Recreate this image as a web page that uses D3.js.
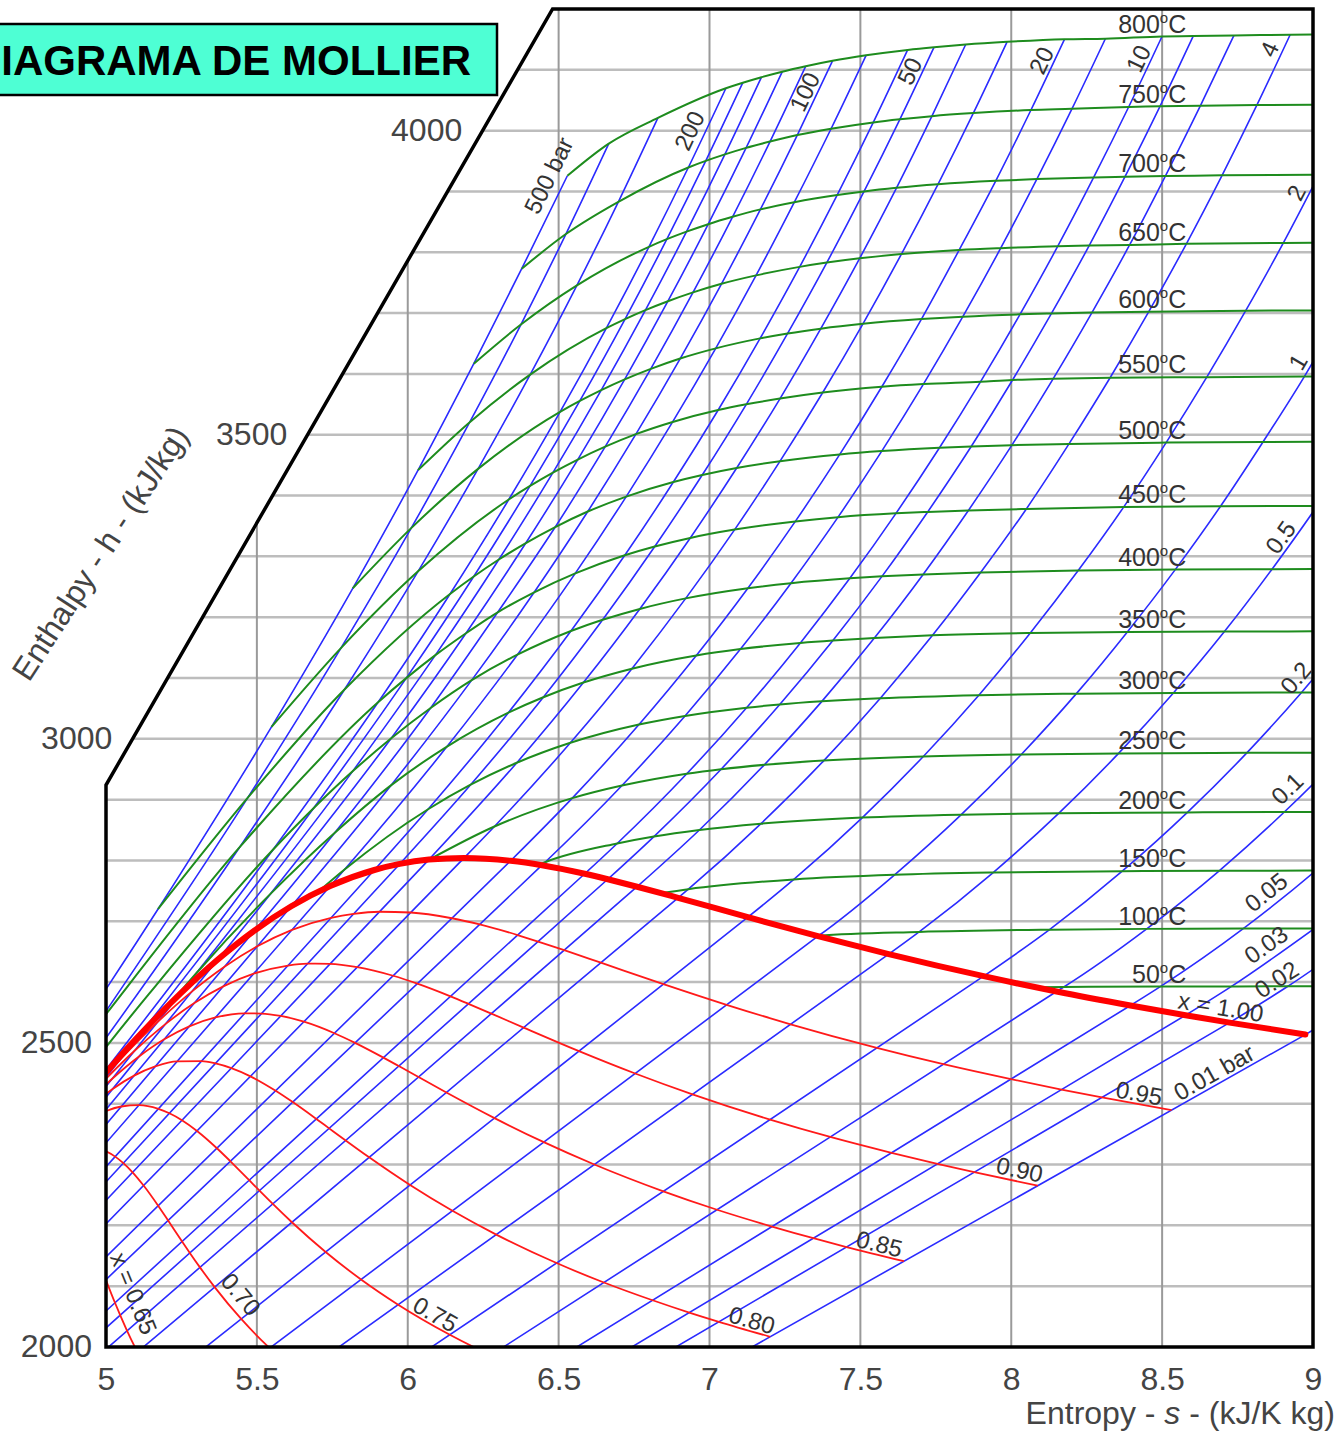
<!DOCTYPE html>
<html>
	<head>
		<meta charset="UTF-8">
		<title>Diagrama de Mollier</title>
		<script type="text/javascript" src="https://cdn.jsdelivr.net/npm/d3@7/dist/d3.min.js"></script>
		<style>
			body { margin: 0; background-color: white; }
			svg text { font-family: "Liberation Sans", Arial, sans-serif; }
		</style>
	</head>
	<body>
		<svg id="chart" width="1342" height="1437"></svg>

		<script type="text/javascript">

			// ---- saturation table, one column per pressure (bar) ----
			var satPressures = [200, 180, 160, 140, 120, 100, 80, 60, 50, 40, 30, 20, 15, 10, 8, 6, 4, 2, 1, 0.5, 0.2, 0.1, 0.05, 0.03, 0.02, 0.01];
			var satLiquidEntropy = [4.0139, 3.8715, 3.7461, 3.6232, 3.4962, 3.3596, 3.2068, 3.0267, 2.9202, 2.7964, 2.6457, 2.4474, 2.3150, 2.1387, 2.0462, 1.9312, 1.7766, 1.5301, 1.3026, 1.0910, 0.8320, 0.6492, 0.4763, 0.3543, 0.2606, 0.1059];
			var satLiquidEnthalpy = [1826.3, 1732.0, 1650.1, 1571.1, 1491.3, 1407.6, 1316.6, 1213.4, 1154.2, 1087.3, 1008.4, 908.8, 844.9, 762.8, 721.1, 670.6, 604.7, 504.7, 417.5, 340.5, 251.4, 191.8, 137.8, 101.0, 73.5, 29.3];
			var satVapourEntropy = [4.9269, 5.1044, 5.2455, 5.3717, 5.4924, 5.6141, 5.7432, 5.8892, 5.9734, 6.0701, 6.1869, 6.3409, 6.4448, 6.5865, 6.6628, 6.7600, 6.8959, 7.1271, 7.3594, 7.5939, 7.9085, 8.1501, 8.3950, 8.5776, 8.7236, 8.9749];
			var satVapourEnthalpy = [2409.7, 2509.1, 2580.6, 2637.6, 2684.9, 2724.7, 2758.0, 2784.3, 2794.3, 2801.4, 2804.2, 2799.5, 2792.2, 2778.1, 2769.1, 2756.8, 2738.6, 2706.7, 2675.5, 2645.9, 2609.7, 2584.6, 2561.6, 2545.5, 2533.4, 2513.7];

			// ---- saturated vapour at the isotherm temperatures (degC) ----
			var satTemps = [50, 100, 150, 200, 250, 300, 350];
			var satTempEntropy = [8.0748, 7.3542, 6.8371, 6.4302, 6.0696, 5.7059, 5.2112];
			var satTempEnthalpy = [2591.3, 2675.6, 2745.9, 2792.0, 2801.0, 2749.6, 2563.9];

			// ---- superheated steam, one list per isotherm: [p (bar), s, h] ----
			var steam50 = [[0.1, 8.1741, 2592.0], [0.05, 8.4940, 2592.6], [0.03, 8.7299, 2592.9], [0.02, 8.9169, 2593.1], [0.01, 9.2368, 2593.3]];
			var steam100 = [[1, 7.3614, 2676.2], [0.5, 7.6947, 2682.5], [0.2, 8.1269, 2686.2], [0.1, 8.4489, 2687.5], [0.05, 8.7688, 2688.0], [0.03, 9.0046, 2688.2], [0.02, 9.1917, 2688.3]];
			var steam150 = [[4, 6.9299, 2752.8], [2, 7.2795, 2768.8], [1, 7.6134, 2776.4], [0.5, 7.9401, 2780.1], [0.2, 8.3678, 2782.3], [0.1, 8.6892, 2783.0], [0.05, 9.0091, 2783.3]];
			var steam200 = [[15, 6.4552, 2797.1], [10, 6.6940, 2827.9], [8, 6.8158, 2839.3], [6, 6.9665, 2850.1], [4, 7.1706, 2860.5], [2, 7.5066, 2870.5], [1, 7.8343, 2875.3], [0.5, 8.1580, 2877.7], [0.2, 8.5838, 2879.0], [0.1, 8.9049, 2879.6], [0.05, 9.2248, 2879.9]];
			var steam250 = [[30, 6.2872, 2855.8], [20, 6.5453, 2902.5], [15, 6.7100, 2923.2], [10, 6.9247, 2942.6], [8, 7.0384, 2950.0], [6, 7.1816, 2957.2], [4, 7.3789, 2964.2], [2, 7.7086, 2971.0], [1, 8.0333, 2974.3], [0.5, 8.3556, 2976.0], [0.2, 8.7807, 2976.9], [0.1, 9.1015, 2977.3]];
			var steam300 = [[80, 5.7906, 2785.0], [60, 6.0674, 2884.2], [50, 6.2084, 2924.5], [40, 6.3615, 2960.7], [30, 6.5390, 2993.5], [20, 6.7664, 3023.5], [15, 6.9189, 3037.6], [10, 7.1229, 3051.2], [8, 7.2328, 3056.5], [6, 7.3724, 3061.6], [4, 7.5662, 3066.8], [2, 7.8926, 3071.8], [1, 8.2158, 3074.3], [0.5, 8.5373, 3075.5], [0.2, 8.9620, 3076.3], [0.1, 9.2827, 3076.7]];
			var steam350 = [[160, 5.3000, 2615.0], [140, 5.5450, 2745.0], [120, 5.7583, 2845.6], [100, 5.9443, 2923.4], [80, 6.1301, 2987.3], [60, 6.3335, 3043.0], [50, 6.4493, 3068.4], [40, 6.5821, 3092.5], [30, 6.7428, 3115.3], [20, 6.9563, 3137.0], [15, 7.1027, 3147.5], [10, 7.3011, 3157.7], [8, 7.4089, 3161.7], [6, 7.5464, 3165.7], [4, 7.7391, 3170.1], [2, 8.0631, 3174.0], [1, 8.3847, 3175.8], [0.5, 8.7065, 3176.3], [0.2, 9.1308, 3177.0]];
			var steam400 = [[300, 4.4728, 2151.1], [250, 5.1418, 2580.2], [200, 5.5540, 2818.1], [180, 5.6878, 2885.9], [160, 5.8172, 2946.5], [140, 5.9453, 3001.0], [120, 6.0758, 3050.7], [100, 6.2120, 3096.5], [80, 6.3634, 3138.3], [60, 6.5408, 3177.2], [50, 6.6459, 3195.7], [40, 6.7690, 3213.6], [30, 6.9212, 3230.9], [20, 7.1271, 3247.6], [15, 7.2700, 3255.9], [10, 7.4651, 3263.9], [8, 7.5716, 3267.1], [6, 7.7079, 3270.3], [4, 7.8985, 3273.4], [2, 8.2218, 3276.6], [1, 8.5435, 3278.2], [0.5, 8.8642, 3278.9], [0.2, 9.2893, 3279.5]];
			var steam450 = [[500, 4.5884, 2284.0], [400, 4.9459, 2512.8], [300, 5.4423, 2821.4], [200, 5.9017, 3060.1], [180, 5.9951, 3099.8], [160, 6.0916, 3137.6], [140, 6.1930, 3173.6], [120, 6.2980, 3208.0], [100, 6.4190, 3240.9], [80, 6.5551, 3272.0], [60, 6.7193, 3301.8], [50, 6.8186, 3316.2], [40, 6.9363, 3330.3], [30, 7.0834, 3344.0], [20, 7.2844, 3357.5], [15, 7.4260, 3364.5], [10, 7.6180, 3370.7], [8, 7.7230, 3373.0], [6, 7.8580, 3375.5], [4, 8.0500, 3378.0], [2, 8.3725, 3381.0], [1, 8.6935, 3382.4], [0.5, 9.0140, 3383.0]];
			var steam500 = [[500, 5.1726, 2720.1], [400, 5.4700, 2903.3], [300, 5.7904, 3081.1], [200, 6.1401, 3238.2], [180, 6.2187, 3266.9], [160, 6.3019, 3294.8], [140, 6.3913, 3321.9], [120, 6.4888, 3348.2], [100, 6.5966, 3373.7], [80, 6.7240, 3398.3], [60, 6.8803, 3422.2], [50, 6.9759, 3433.8], [40, 7.0901, 3445.3], [30, 7.2338, 3456.5], [20, 7.4317, 3467.6], [15, 7.5709, 3473.1], [10, 7.7622, 3478.5], [8, 7.8673, 3480.6], [6, 8.0021, 3482.8], [4, 8.1913, 3484.9], [2, 8.5133, 3487.1], [1, 8.8342, 3488.1], [0.5, 9.1546, 3488.7]];
			var steam550 = [[500, 5.5485, 3019.5], [400, 5.7785, 3149.1], [300, 6.0342, 3275.4], [200, 6.3348, 3393.5], [180, 6.4054, 3415.8], [160, 6.4811, 3437.7], [140, 6.5635, 3459.2], [120, 6.6544, 3480.3], [100, 6.7561, 3500.9], [80, 6.8778, 3521.0], [60, 7.0288, 3540.6], [50, 7.1220, 3550.0], [40, 7.2338, 3559.5], [30, 7.3753, 3569.4], [20, 7.5711, 3578.9], [15, 7.7090, 3583.3], [10, 7.8984, 3587.3], [8, 8.0043, 3590.0], [6, 8.1387, 3591.9], [4, 8.3275, 3593.7], [2, 8.6480, 3594.7], [1, 8.9713, 3595.6], [0.5, 9.2905, 3596.1]];
			var steam600 = [[500, 5.8178, 3247.5], [400, 6.0114, 3346.4], [300, 6.2330, 3443.9], [200, 6.5048, 3537.6], [180, 6.5702, 3555.6], [160, 6.6412, 3573.4], [140, 6.7190, 3591.0], [120, 6.8054, 3608.3], [100, 6.9029, 3625.3], [80, 7.0206, 3642.0], [60, 7.1677, 3658.4], [50, 7.2589, 3666.5], [40, 7.3688, 3674.4], [30, 7.5085, 3682.3], [20, 7.7024, 3690.1], [15, 7.8395, 3694.1], [10, 8.0290, 3697.9], [8, 8.1333, 3699.4], [6, 8.2674, 3700.9], [4, 8.4558, 3702.4], [2, 8.7770, 3704.0], [1, 9.0976, 3704.4]];
			var steam650 = [[500, 6.0342, 3441.8], [400, 6.2054, 3520.6], [300, 6.4057, 3598.9], [200, 6.6582, 3675.3], [180, 6.7202, 3690.2], [160, 6.7877, 3704.9], [140, 6.8622, 3719.5], [120, 6.9454, 3734.0], [100, 7.0398, 3748.2], [80, 7.1543, 3762.0], [60, 7.2989, 3776.0], [50, 7.3888, 3783.0], [40, 7.4976, 3790.0], [30, 7.6360, 3797.0], [20, 7.8273, 3803.6], [15, 7.9650, 3806.7], [10, 8.1542, 3810.0], [8, 8.2583, 3811.0], [6, 8.3922, 3812.0], [4, 8.5804, 3814.0], [2, 8.9018, 3815.4], [1, 9.2245, 3816.0]];
			var steam700 = [[500, 6.2189, 3616.8], [400, 6.3750, 3681.2], [300, 6.5606, 3745.6], [200, 6.7993, 3809.0], [180, 6.8587, 3821.5], [160, 6.9238, 3833.9], [140, 6.9958, 3846.2], [120, 7.0766, 3858.3], [100, 7.1687, 3870.5], [80, 7.2812, 3882.4], [60, 7.4234, 3894.2], [50, 7.5122, 3900.1], [40, 7.6198, 3905.9], [30, 7.7571, 3911.7], [20, 7.9487, 3917.4], [15, 8.0848, 3920.3], [10, 8.2731, 3923.1], [8, 8.3770, 3924.2], [6, 8.5107, 3925.3], [4, 8.6987, 3926.5], [2, 9.0198, 3927.6]];
			var steam750 = [[500, 6.3777, 3773.0], [400, 6.5241, 3830.0], [300, 6.6980, 3883.0], [200, 6.9299, 3939.4], [180, 6.9876, 3950.2], [160, 7.0510, 3960.9], [140, 7.1213, 3971.6], [120, 7.2006, 3982.0], [100, 7.2910, 3992.7], [80, 7.4029, 4003.1], [60, 7.5428, 4013.5], [50, 7.6309, 4018.6], [40, 7.7371, 4023.8], [30, 7.8744, 4028.8], [20, 8.0653, 4033.9], [15, 8.2011, 4035.8], [10, 8.3891, 4038.9], [8, 8.4929, 4039.9], [6, 8.6270, 4041.0], [4, 8.8143, 4042.2], [2, 9.1367, 4043.0]];
			var steam800 = [[500, 6.5290, 3925.8], [400, 6.6662, 3978.7], [300, 6.8290, 4021.0], [200, 7.0544, 4069.7], [180, 7.1104, 4078.8], [160, 7.1722, 4087.9], [140, 7.2410, 4096.9], [120, 7.3187, 4105.8], [100, 7.4077, 4114.8], [80, 7.5190, 4123.8], [60, 7.6566, 4132.7], [50, 7.7440, 4137.1], [40, 7.8490, 4141.6], [30, 7.9862, 4146.0], [20, 8.1765, 4150.3], [15, 8.3120, 4151.2], [10, 8.4996, 4154.8], [8, 8.6033, 4155.6], [6, 8.7380, 4156.5], [4, 8.9244, 4157.8], [2, 9.2482, 4158.5]];

			var isothermTemps = [50, 100, 150, 200, 250, 300, 350, 400, 450, 500, 550, 600, 650, 700, 750, 800];
			var isothermRows = [steam50, steam100, steam150, steam200, steam250, steam300, steam350, steam400, steam450, steam500, steam550, steam600, steam650, steam700, steam750, steam800];

			// pressures drawn as isobars (bar) and dryness fractions drawn as quality lines
			var isobarPressures = [500, 400, 300, 200, 180, 160, 140, 120, 100, 80, 60, 50, 40, 30, 20, 15, 10, 8, 6, 4, 2, 1, 0.5, 0.2, 0.1, 0.05, 0.03, 0.02, 0.01];
			var qualities = [0.65, 0.70, 0.75, 0.80, 0.85, 0.90, 0.95];

			var xTicks = [5, 5.5, 6, 6.5, 7, 7.5, 8, 8.5, 9];
			var yTicks = [2000, 2500, 3000, 3500, 4000];

			// chart outline (s, h)
			var frameEntropy = [5, 5, 6.48, 9, 9];
			var frameEnthalpy = [2000, 2924, 4200, 4200, 2000];

			// label layout: distance back from the visible end of the line, offset beside it
			var isobarLabels = [
				{ p: 500, text: "500 bar", back: 8, off: 17 },
				{ p: 200, text: "200", back: 54, off: 15 },
				{ p: 100, text: "100", back: 40, off: 12 },
				{ p: 50, text: "50", back: 32, off: 12 },
				{ p: 20, text: "20", back: 29, off: 12 },
				{ p: 10, text: "10", back: 30, off: 12 },
				{ p: 4, text: "4", back: 22, off: 13 },
				{ p: 2, text: "2", back: 14, off: 12 },
				{ p: 1, text: "1", back: 8, off: 13 },
				{ p: 0.5, text: "0.5", back: 40, off: 12 },
				{ p: 0.2, text: "0.2", back: 11, off: 14 },
				{ p: 0.1, text: "0.1", back: 22, off: 15 },
				{ p: 0.05, text: "0.05", back: 49, off: 15 },
				{ p: 0.03, text: "0.03", back: 47, off: 15 },
				{ p: 0.02, text: "0.02", back: 36, off: 12 },
				{ p: 0.01, text: "0.01 bar", back: 107, off: 12 }
			];
			var qualityLabels = [
				{ q: 1.00, text: "x = 1.00", back: 88, off: 14 },
				{ q: 0.95, text: "0.95", back: 35, off: 11 },
				{ q: 0.90, text: "0.90", back: 21, off: 12 },
				{ q: 0.85, text: "0.85", back: 28, off: 11 },
				{ q: 0.80, text: "0.80", back: 22, off: 11 },
				{ q: 0.75, text: "0.75", back: 50, off: 11 },
				{ q: 0.70, text: "0.70", back: 58, off: 16 },
				{ q: 0.65, text: "x = 0.65", back: 50, off: 21 }
			];

			var svg = d3.select("#chart");

			var x = d3.scaleLinear().domain([5, 9]).range([106, 1313]);
			var y = d3.scaleLinear().domain([2000, 4200]).range([1347, 9]);

			var smooth = d3.line()
							.x(function (d) { return x(d[0]); })
							.y(function (d) { return y(d[1]); })
							.curve(d3.curveMonotoneX);
			var straight = d3.line()
							.x(function (d) { return x(d[0]); })
							.y(function (d) { return y(d[1]); });

			var byEntropy = function (a, b) { return a[0] - b[0]; };

			var framePoints = frameEntropy.map(function (s, i) { return [s, frameEnthalpy[i]]; });

			svg.append("defs").append("clipPath").attr("id", "plotClip")
				.append("polygon")
				.attr("points", framePoints.map(function (d) { return x(d[0]) + "," + y(d[1]); }).join(" "));

			var plot = svg.append("g").attr("clip-path", "url(#plotClip)");

			// grid
			plot.append("g").selectAll("line")
				.data(y.ticks(22).filter(function (h) { return h > 2000 && h < 4200; }))
				.enter().append("line")
				.attr("x1", x(5)).attr("x2", x(9))
				.attr("y1", function (d) { return y(d); })
				.attr("y2", function (d) { return y(d); })
				.attr("stroke", "#bdbdbd")
				.attr("stroke-width", 2.5);

			plot.append("g").selectAll("line")
				.data(x.ticks(8).filter(function (s) { return s > 5 && s < 9; }))
				.enter().append("line")
				.attr("x1", function (d) { return x(d); })
				.attr("x2", function (d) { return x(d); })
				.attr("y1", y(2000)).attr("y2", y(4200))
				.attr("stroke", "#9a9a9a")
				.attr("stroke-width", 2);

			// isotherm point lists
			var isotherms = isothermTemps.map(function (t, i) {
				var pts = isothermRows[i].map(function (r) { return [r[1], r[2]]; });
				var k = satTemps.indexOf(t);
				if (k >= 0) {
					pts.push([satTempEntropy[k], satTempEnthalpy[k]]);
				}
				pts.sort(byEntropy);
				return { t: t, points: pts };
			});

			// isobars: straight wet segment + curved superheated part
			var isobars = isobarPressures.map(function (p) {
				var sup = [];
				var k = satPressures.indexOf(p);
				var wet = null;
				if (k >= 0) {
					sup.push([satVapourEntropy[k], satVapourEnthalpy[k]]);
					wet = [[satLiquidEntropy[k], satLiquidEnthalpy[k]], [satVapourEntropy[k], satVapourEnthalpy[k]]];
				}
				isothermRows.forEach(function (rows) {
					rows.forEach(function (r) {
						if (r[0] === p) {
							sup.push([r[1], r[2]]);
						}
					});
				});
				sup.sort(byEntropy);
				var d = (wet ? straight(wet) : "") + (sup.length > 1 ? smooth(sup) : "");
				return { p: p, d: d };
			});

			var isobarPaths = {};
			plot.append("g").selectAll("path")
				.data(isobars)
				.enter().append("path")
				.attr("d", function (d) { return d.d; })
				.attr("fill", "none")
				.attr("stroke", "#2b2bff")
				.attr("stroke-width", 1.6)
				.each(function (d) { isobarPaths[d.p] = this; });

			plot.append("g").selectAll("path")
				.data(isotherms)
				.enter().append("path")
				.attr("d", function (d) { return smooth(d.points); })
				.attr("fill", "none")
				.attr("stroke", "#1e8c1e")
				.attr("stroke-width", 2);

			// quality lines from the saturation table
			var qualityPaths = {};
			var qualityLines = qualities.map(function (q) {
				var pts = satPressures.map(function (p, i) {
					return [satLiquidEntropy[i] + q * (satVapourEntropy[i] - satLiquidEntropy[i]),
							satLiquidEnthalpy[i] + q * (satVapourEnthalpy[i] - satLiquidEnthalpy[i])];
				});
				pts.sort(byEntropy);
				return { q: q, points: pts };
			});

			plot.append("g").selectAll("path")
				.data(qualityLines)
				.enter().append("path")
				.attr("d", function (d) { return smooth(d.points); })
				.attr("fill", "none")
				.attr("stroke", "#ff1a1a")
				.attr("stroke-width", 1.8)
				.each(function (d) { qualityPaths[d.q] = this; });

			var satLine = satPressures.map(function (p, i) { return [satVapourEntropy[i], satVapourEnthalpy[i]]; }).sort(byEntropy);
			qualityPaths[1] = plot.append("path")
				.attr("d", smooth(satLine))
				.attr("fill", "none")
				.attr("stroke", "#ff0000")
				.attr("stroke-width", 6)
				.attr("stroke-linecap", "round")
				.node();

			// outline
			svg.append("polygon")
				.attr("points", framePoints.map(function (d) { return x(d[0]) + "," + y(d[1]); }).join(" "))
				.attr("fill", "none")
				.attr("stroke", "black")
				.attr("stroke-width", 3.5)
				.attr("stroke-linejoin", "miter");

			// ---- labels ----
			var inside = function (pt) {
				return pt.x >= x(5) - 0.5 && pt.x <= x(9) + 0.5 && pt.y <= y(2000) + 0.5 && pt.y >= y(4200) - 0.5;
			};
			var visibleEnd = function (node) {
				var L = node.getTotalLength();
				while (L > 0 && !inside(node.getPointAtLength(L))) {
					L -= 1;
				}
				return L;
			};
			var placeAlong = function (node, back, off) {
				var L = visibleEnd(node) - back;
				var pt = node.getPointAtLength(L);
				var a = node.getPointAtLength(Math.max(0, L - 3));
				var b = node.getPointAtLength(L + 3);
				var ang = Math.atan2(b.y - a.y, b.x - a.x);
				return { x: pt.x + off * Math.sin(ang), y: pt.y - off * Math.cos(ang), deg: ang * 180 / Math.PI };
			};

			var labels = svg.append("g")
							.attr("fill", "#333")
							.attr("font-size", 24);

			isobarLabels.forEach(function (lab) {
				var pos = placeAlong(isobarPaths[lab.p], lab.back, lab.off);
				labels.append("text")
					.attr("transform", "translate(" + pos.x + "," + pos.y + ") rotate(" + pos.deg + ")")
					.attr("text-anchor", "middle")
					.attr("dy", "0.35em")
					.text(lab.text);
			});

			qualityLabels.forEach(function (lab) {
				var pos = placeAlong(qualityPaths[lab.q], lab.back, lab.off);
				labels.append("text")
					.attr("transform", "translate(" + pos.x + "," + pos.y + ") rotate(" + pos.deg + ")")
					.attr("text-anchor", "middle")
					.attr("dy", "0.35em")
					.text(lab.text);
			});

			var enthalpyAt = function (points, s) {
				for (var i = 1; i < points.length; i++) {
					if (points[i][0] >= s) {
						var a = points[i - 1], b = points[i];
						return a[1] + (b[1] - a[1]) * (s - a[0]) / (b[0] - a[0]);
					}
				}
				return points[points.length - 1][1];
			};

			isotherms.forEach(function (iso) {
				var h = enthalpyAt(iso.points, 8.46);
				var t = labels.append("text")
							.attr("x", x(8.58))
							.attr("y", y(h) - 4)
							.attr("text-anchor", "end")
							.attr("font-size", 25);
				t.append("tspan").text(iso.t);
				t.append("tspan").attr("font-size", 15).attr("dy", -10).text("o");
				t.append("tspan").attr("dy", 10).text("C");
			});

			// ---- axes ----
			var xAxis = svg.append("g")
							.attr("transform", "translate(0," + y(2000) + ")")
							.call(d3.axisBottom(x).tickValues(xTicks).tickSize(0).tickPadding(20)
									.tickFormat(function (d) { return String(d); }));
			xAxis.select(".domain").remove();
			xAxis.attr("font-size", 32).attr("font-family", "Liberation Sans, Arial, sans-serif");
			xAxis.selectAll("text").attr("fill", "#444");

			var frameLeftAt = function (py) {
				var cornerY = y(frameEnthalpy[1]), topY = y(frameEnthalpy[2]);
				if (py >= cornerY) {
					return x(frameEntropy[1]);
				}
				return x(frameEntropy[1]) + (cornerY - py) / (cornerY - topY) * (x(frameEntropy[2]) - x(frameEntropy[1]));
			};

			var yAxis = svg.append("g")
							.call(d3.axisLeft(y).tickValues(yTicks).tickSize(0).tickPadding(0)
									.tickFormat(function (d) { return String(d); }));
			yAxis.select(".domain").remove();
			yAxis.attr("font-size", 32).attr("font-family", "Liberation Sans, Arial, sans-serif");
			yAxis.selectAll("text").attr("fill", "#444");
			yAxis.selectAll(".tick")
				.attr("transform", function (d) { return "translate(" + (frameLeftAt(y(d) + 11) - 14) + "," + y(d) + ")"; });

			var xTitle = svg.append("text")
							.attr("x", 1335)
							.attr("y", 1424)
							.attr("text-anchor", "end")
							.attr("font-size", 32)
							.attr("fill", "#444");
			xTitle.append("tspan").text("Entropy - ");
			xTitle.append("tspan").attr("font-style", "italic").text("s");
			xTitle.append("tspan").text(" - (kJ/K kg)");

			svg.append("text")
				.attr("transform", "translate(100,553) rotate(-57)")
				.attr("text-anchor", "middle")
				.attr("dy", "0.35em")
				.attr("font-size", 32)
				.attr("fill", "#444")
				.text("Enthalpy - h - (kJ/kg)");

			// title box
			svg.append("rect")
				.attr("x", -6)
				.attr("y", 24)
				.attr("width", 503)
				.attr("height", 71)
				.attr("fill", "#4effd4")
				.attr("stroke", "black")
				.attr("stroke-width", 2.5);
			svg.append("text")
				.attr("x", 471)
				.attr("y", 75)
				.attr("text-anchor", "end")
				.attr("font-size", 42)
				.attr("font-weight", "bold")
				.attr("fill", "black")
				.text("DIAGRAMA DE MOLLIER");
		</script>
	</body>
</html>
